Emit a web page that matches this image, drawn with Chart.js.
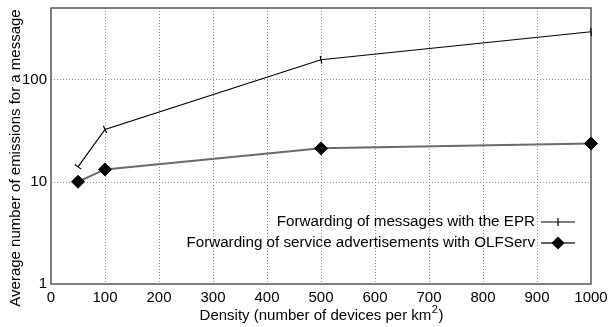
<!DOCTYPE html>
<html>
<head>
<meta charset="utf-8">
<script src="https://cdn.jsdelivr.net/npm/chart.js@4/dist/chart.umd.min.js"></script>
<style>
  html, body { margin: 0; padding: 0; background: #fff; }
  #wrap { width: 608px; height: 327px; }
</style>
</head>
<body>
<div id="wrap"><canvas id="c" width="608" height="327"></canvas></div>
<script>
// Density values (devices per km²)
const densities = [50, 100, 500, 1000];
// Average number of emissions for a message
const eprEmissions = [14, 32.5, 156, 293];
const olfservEmissions = [10, 13.2, 21.2, 23.7];
const seriesNames = [
  'Forwarding of messages with the EPR',
  'Forwarding of service advertisements with OLFServ'
];
const xTickValues = [0, 100, 200, 300, 400, 500, 600, 700, 800, 900, 1000];
const yTickValues = [1, 10, 100];
const xTitle = 'Density (number of devices per km';
const xTitleSup = '2';
const yTitle = 'Average number of emissions for a message';

const FONT = '"Liberation Sans", Arial, sans-serif';

function toPoints(xs, ys) {
  return xs.map((x, i) => ({ x: x, y: ys[i] }));
}

// Tick marks of the EPR curve are drawn across the line direction
function tickRotation(ctx) {
  const chart = ctx.chart;
  const sx = chart.scales.x, sy = chart.scales.y;
  const data = ctx.dataset.data;
  const i = ctx.dataIndex;
  if (!sx || !sy || !data[i]) return 90;
  const a = data[Math.max(0, i - 1)], b = data[Math.min(data.length - 1, i + 1)];
  const dx = sx.getPixelForValue(b.x) - sx.getPixelForValue(a.x);
  const dy = sy.getPixelForValue(b.y) - sy.getPixelForValue(a.y);
  return Math.atan2(dy, dx) * 180 / Math.PI + 90;
}

// fixed axis box sizes, no extra label padding
function fixBox(size) {
  return function (scale) {
    if (scale.isHorizontal()) scale.height = size; else scale.width = size;
    scale.paddingLeft = scale.paddingRight = scale.paddingTop = scale.paddingBottom = 0;
  };
}

const frame = {
  id: 'frame',
  beforeDatasetsDraw(chart) {
    const { ctx, chartArea: a, scales } = chart;
    ctx.save();
    // dotted grid at the inner ticks
    ctx.strokeStyle = '#8c8c8c';
    ctx.lineWidth = 1;
    ctx.setLineDash([1, 2]);
    ctx.beginPath();
    scales.x.ticks.forEach(t => {
      if (t.value <= scales.x.min || t.value >= scales.x.max) return;
      const px = Math.round(scales.x.getPixelForValue(t.value)) + 0.5;
      ctx.moveTo(px, a.top);
      ctx.lineTo(px, a.bottom);
    });
    scales.y.ticks.forEach(t => {
      if (t.value <= scales.y.min || t.value >= scales.y.max) return;
      const py = Math.round(scales.y.getPixelForValue(t.value)) + 0.5;
      ctx.moveTo(a.left, py);
      ctx.lineTo(a.right, py);
    });
    ctx.stroke();
    ctx.setLineDash([]);
    ctx.strokeStyle = '#555';
    ctx.lineWidth = 1.5;
    ctx.strokeRect(a.left, a.top, a.right - a.left, a.bottom - a.top);
    ctx.restore();
  },
  afterDraw(chart) {
    const { ctx, chartArea: a } = chart;
    ctx.save();
    ctx.fillStyle = '#000';
    ctx.font = '15px ' + FONT;
    // x axis title with superscript
    const w1 = ctx.measureText(xTitle).width;
    ctx.font = '11px ' + FONT;
    const w2 = ctx.measureText(xTitleSup).width;
    ctx.font = '15px ' + FONT;
    const w3 = ctx.measureText(')').width;
    const total = w1 + w2 + w3;
    let x0 = (a.left + a.right) / 2 - total / 2;
    const by = 320;
    ctx.textBaseline = 'alphabetic';
    ctx.textAlign = 'left';
    ctx.fillText(xTitle, x0, by);
    ctx.font = '11px ' + FONT;
    ctx.fillText(xTitleSup, x0 + w1 + 0.5, by - 7);
    ctx.font = '15px ' + FONT;
    ctx.fillText(')', x0 + w1 + w2 + 1, by);

    // y axis title
    ctx.save();
    ctx.translate(16, 158);
    ctx.rotate(-Math.PI / 2);
    ctx.textAlign = 'center';
    ctx.textBaseline = 'middle';
    ctx.fillText(yTitle, 0, 0);
    ctx.restore();

    // legend (bottom right, inside the plot)
    const textRight = 535, lx1 = 541, lx2 = 575, lmid = 558;
    const rows = [222, 243];
    ctx.font = '15.2px ' + FONT;
    ctx.textAlign = 'right';
    ctx.textBaseline = 'middle';
    ctx.fillText(seriesNames[0], textRight, rows[0]);
    ctx.fillText(seriesNames[1], textRight, rows[1]);
    ctx.strokeStyle = '#000';
    ctx.lineWidth = 1.2;
    ctx.beginPath();
    ctx.moveTo(lx1, rows[0]); ctx.lineTo(lx2, rows[0]);
    ctx.moveTo(lmid, rows[0] - 4); ctx.lineTo(lmid, rows[0] + 4);
    ctx.stroke();
    ctx.strokeStyle = '#666';
    ctx.lineWidth = 2;
    ctx.beginPath();
    ctx.moveTo(lx1, rows[1]); ctx.lineTo(lx2, rows[1]);
    ctx.stroke();
    ctx.fillStyle = '#000';
    ctx.beginPath();
    ctx.moveTo(lmid, rows[1] - 6.5);
    ctx.lineTo(lmid + 6.5, rows[1]);
    ctx.lineTo(lmid, rows[1] + 6.5);
    ctx.lineTo(lmid - 6.5, rows[1]);
    ctx.closePath();
    ctx.fill();
    ctx.restore();
  }
};

new Chart(document.getElementById('c'), {
  type: 'line',
  data: {
    datasets: [
      {
        label: seriesNames[0],
        data: toPoints(densities, eprEmissions),
        borderColor: '#000',
        borderWidth: 1.2,
        pointStyle: 'line',
        pointRadius: 4,
        pointBorderColor: '#000',
        pointBorderWidth: 1.2,
        pointRotation: tickRotation,
        tension: 0,
        fill: false
      },
      {
        label: seriesNames[1],
        data: toPoints(densities, olfservEmissions),
        borderColor: '#6a6a6a',
        borderWidth: 2,
        pointStyle: 'rectRot',
        pointRadius: 6.5,
        pointBackgroundColor: '#000',
        pointBorderColor: '#000',
        pointBorderWidth: 1,
        tension: 0,
        fill: false
      }
    ]
  },
  options: {
    responsive: false,
    animation: false,
    clip: false,
    layout: { padding: { top: 8, right: 17, left: 0, bottom: 0 } },
    plugins: {
      legend: { display: false },
      tooltip: { enabled: false }
    },
    scales: {
      x: {
        type: 'linear',
        min: 0,
        max: 1000,
        afterBuildTicks(scale) { scale.ticks = xTickValues.map(v => ({ value: v })); },
        afterFit: fixBox(43),
        grid: { display: false, drawTicks: false, tickLength: 0 },
        border: { display: false },
        ticks: {
          color: '#000',
          font: { family: FONT, size: 15 },
          padding: 5,
          maxRotation: 0,
          autoSkip: false,
          callback: (v) => String(v)
        }
      },
      y: {
        type: 'logarithmic',
        min: 1,
        max: 500,
        afterBuildTicks(scale) { scale.ticks = yTickValues.map(v => ({ value: v })); },
        afterFit: fixBox(51),
        grid: { display: false, drawTicks: false, tickLength: 0 },
        border: { display: false },
        ticks: {
          color: '#000',
          font: { family: FONT, size: 15 },
          padding: 4,
          autoSkip: false,
          callback: (v) => String(v)
        }
      }
    }
  },
  plugins: [frame]
});
</script>
</body>
</html>
